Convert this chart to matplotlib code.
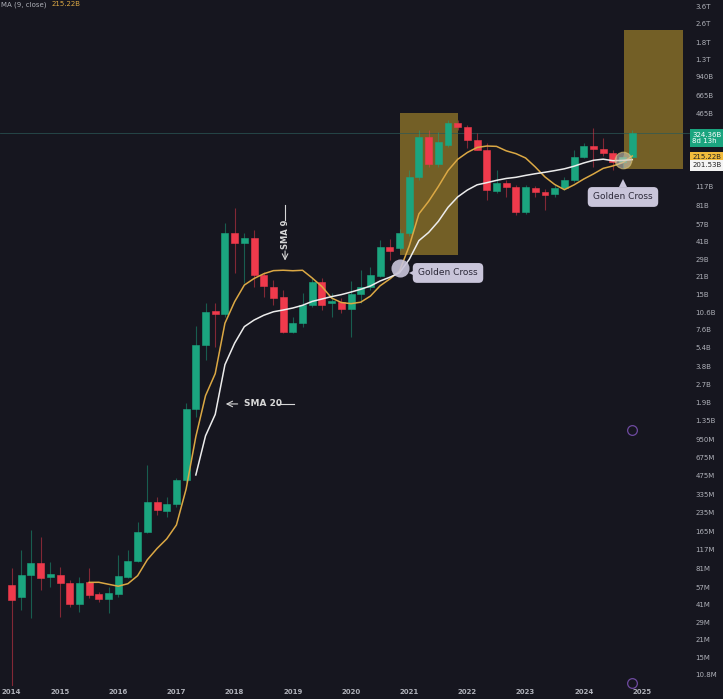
import numpy as np
import pandas as pd
import matplotlib
matplotlib.use("Agg")
import matplotlib.pyplot as plt
from matplotlib.ticker import NullLocator

# two-month candles, values in billions
opens = [0.0593, 0.0472, 0.0718, 0.0902, 0.0691, 0.0718, 0.0617, 0.0413, 0.0628, 0.0500,
         0.0455, 0.0500, 0.0691, 0.0937, 0.163, 0.288, 0.243, 0.277, 0.438, 1.69,
         5.71, 10.9, 10.3, 48.1, 39.8, 43.8, 21.6, 17.2, 14.2, 7.31,
         8.68, 12.2, 18.9, 12.7, 12.9, 11.3, 15.1, 17.2, 21.2, 36.9,
         36.1, 48.1, 140, 299, 179, 257, 390, 362, 282, 234,
         107, 125, 116, 71.8, 114, 105, 101, 114, 132, 204,
         252, 239, 221, 186, 204]
highs = [0.0820, 0.1155, 0.169, 0.148, 0.0919, 0.0836, 0.0653, 0.0691, 0.0820, 0.0519,
         0.0571, 0.105, 0.1155, 0.197, 0.582, 0.317, 0.317, 0.455, 1.89, 8.20,
         12.7, 12.7, 58.2, 77.4, 48.1, 50.9, 22.9, 19.7, 16.3, 9.73,
         15.4, 20.4, 20.4, 15.4, 14.0, 19.3, 23.8, 25.2, 42.1, 43.0,
         51.9, 160, 342, 342, 329, 413, 413, 376, 323, 267,
         160, 132, 120, 120, 118, 111, 120, 140, 234, 267,
         355, 293, 234, 212, 342]
lows = [0.00852, 0.0369, 0.0317, 0.0540, 0.0571, 0.0323, 0.0390, 0.0355, 0.0463, 0.0429,
        0.0348, 0.0472, 0.0678, 0.0919, 0.160, 0.225, 0.216, 0.262, 0.42, 1.45,
        4.29, 5.5, 9.73, 22.5, 18.6, 17.2, 14.2, 12.2, 7.15, 7.15,
        8.05, 11.8, 11.1, 9.73, 10.5, 6.65, 12.7, 16.3, 20.8, 28.8,
        34.9, 45.8, 132, 169, 169, 247, 342, 243, 234, 90.2,
        103, 95.6, 67.8, 69.1, 95.6, 74.6, 95.6, 110, 127, 200,
        169, 208, 160, 166, 200]
closes = [0.0446, 0.0718, 0.0902, 0.0678, 0.0731, 0.0617, 0.0413, 0.0617, 0.0491, 0.0455,
          0.0510, 0.0704, 0.0937, 0.163, 0.288, 0.247, 0.277, 0.438, 1.69, 5.71,
          10.7, 10.3, 48.1, 39.8, 43.8, 21.6, 17.6, 14.0, 7.31, 8.68,
          12.2, 18.9, 12.2, 13.2, 11.3, 15.1, 17.2, 21.6, 36.9, 34.2,
          48.1, 140, 299, 179, 272, 390, 362, 282, 234, 109,
          125, 116, 71.8, 116, 105, 99.2, 114, 132, 204, 252,
          239, 221, 186, 204, 324.36]

year_labels = ['2014', '2015', '2016', '2017', '2018', '2019', '2020', '2021',
               '2022', '2023', '2024', '2025']
year_pos = [0, 5, 11, 17, 23, 29, 35, 41, 47, 53, 59, 65]

ytick_labels = ['3.6T', '2.6T', '1.8T', '1.3T', '940B', '665B', '465B', '117B', '81B',
                '57B', '41B', '29B', '21B', '15B', '10.6B', '7.6B', '5.4B', '3.8B',
                '2.7B', '1.9B', '1.35B', '950M', '675M', '475M', '335M', '235M',
                '165M', '117M', '81M', '57M', '41M', '29M', '21M', '15M', '10.8M']
ytick_vals = [3600, 2600, 1800, 1300, 940, 665, 465, 117, 81, 57, 41, 29, 21, 15, 10.6,
              7.6, 5.4, 3.8, 2.7, 1.9, 1.35, 0.95, 0.675, 0.475, 0.335, 0.235, 0.165,
              0.117, 0.081, 0.057, 0.041, 0.029, 0.021, 0.015, 0.0108]

last_price = 324.36
sma9_last = 215.22
sma20_last = 201.53

BG = '#16161f'
UP = '#1ba57f'
DOWN = '#ef3a4c'
GOLD = '#735f26'
SMA9_C = '#dba844'
SMA20_C = '#ececec'
TXT = '#aeb0b8'
LAV = '#c9c5da'

fig = plt.figure(figsize=(7.23, 6.99), dpi=100, facecolor=BG)
ax = fig.add_axes([0, 13 / 699, 690 / 723, 686 / 699])
ax.set_facecolor(BG)
ax.set_yscale('log')
ax.set_xlim(-1.19, 69.95)
ax.set_ylim(0.00868, 4055)
for s in ax.spines.values():
    s.set_visible(False)

x = np.arange(len(closes))
o = np.array(opens)
h = np.array(highs)
l = np.array(lows)
c = np.array(closes)
colors = np.where(c >= o, UP, DOWN)

# highlighted zones
ax.fill_between([40.0, 46.0], 31.7, 472, color=GOLD, lw=0, zorder=1)
ax.fill_between([63.1, 69.2], 163, 2291, color=GOLD, lw=0, zorder=1)

ax.axhline(last_price, color='#2b5a58', lw=0.6, alpha=0.8, zorder=2)

ax.vlines(x, l, h, colors=colors, lw=0.8, alpha=0.5, zorder=3)
ax.bar(x, np.abs(c - o), bottom=np.minimum(o, c), width=0.72, color=colors,
       edgecolor=colors, linewidth=0.4, zorder=4)

sc = pd.Series(c)
ax.plot(x, sc.rolling(9).mean(), color=SMA9_C, lw=1.1, zorder=5)
ax.plot(x, sc.rolling(20).mean(), color=SMA20_C, lw=1.1, zorder=5)

# SMA 9 note
ann = '#d6d6d6'
ax.plot([28.2, 28.2], [82, 61.6], color=ann, lw=0.8)
ax.text(28.2, 47.2, 'SMA 9', rotation=90, color=ann, fontsize=6, fontweight='bold',
        ha='center', va='center')
ax.annotate('', xy=(28.2, 27.0), xytext=(28.2, 36.1),
            arrowprops=dict(arrowstyle='->', color=ann, lw=0.8))

# SMA 20 note
ax.annotate('', xy=(21.8, 1.86), xytext=(23.6, 1.86),
            arrowprops=dict(arrowstyle='->', color=ann, lw=0.8))
ax.text(24.0, 1.86, 'SMA 20', ha='left', va='center', color=ann, fontsize=6.5,
        fontweight='bold')
ax.plot([27.5, 29.1], [1.86, 1.86], color=ann, lw=0.8)

# golden crosses
ax.plot(40.05, 24.7, 'o', ms=13, color=LAV, alpha=0.9, mew=0, zorder=6)
ax.plot(41.4, 22.6, '<', ms=6, color=LAV, mew=0, zorder=6)
ax.text(45.0, 22.5, 'Golden Cross', ha='center', va='center', fontsize=6.5,
        color='#2b2838', zorder=7,
        bbox=dict(boxstyle='round,pad=0.6,rounding_size=0.5', fc=LAV, ec='none'))

ax.plot(63.04, 193, 'o', ms=12, color='#cfc7b4', alpha=0.6, mec='#e0c870', mew=0.8, zorder=6)
ax.plot(63.04, 124, '^', ms=6, color=LAV, mew=0, zorder=6)
ax.text(63.04, 95.5, 'Golden Cross', ha='center', va='center', fontsize=6.5,
        color='#2b2838', zorder=7,
        bbox=dict(boxstyle='round,pad=0.6,rounding_size=0.5', fc=LAV, ec='none'))

# small icons
ax.plot(64.0, 1.13, 'o', ms=7, mfc='none', mec='#6e4aa0', mew=0.9, zorder=6)
ax.plot(64.0, 0.0092, 'o', ms=7, mfc='none', mec='#6e4aa0', mew=0.9, zorder=6,
        clip_on=False)

# axes
ax.yaxis.tick_right()
ax.set_yticks(ytick_vals)
ax.set_yticklabels(ytick_labels)
ax.yaxis.set_minor_locator(NullLocator())
ax.tick_params(axis='y', length=0, pad=4, labelsize=5, labelcolor=TXT)
ax.set_xticks(year_pos)
ax.set_xticklabels(year_labels, fontweight='bold')
ax.tick_params(axis='x', length=0, pad=2, labelsize=5, labelcolor=TXT)

# price badges
tr = ax.get_yaxis_transform()
ax.text(1.003, 294, f'{last_price:.2f}B\n8d 13h', transform=tr, ha='left', va='center',
        fontsize=5, color='white', linespacing=1.1, zorder=8,
        bbox=dict(boxstyle='square,pad=0.35', fc=UP, ec='none'))
ax.text(1.003, 206, f'{sma9_last:.2f}B', transform=tr, ha='left', va='center',
        fontsize=5, color='#222222', zorder=8,
        bbox=dict(boxstyle='square,pad=0.3', fc='#f2bc3c', ec='none'))
ax.text(1.003, 174, f'{sma20_last:.2f}B', transform=tr, ha='left', va='center',
        fontsize=5, color='#222222', zorder=8,
        bbox=dict(boxstyle='square,pad=0.3', fc='#f4f4f4', ec='none'))

# legend line at the top
ax.text(0.002, 0.998, 'MA (9, close)', transform=ax.transAxes, fontsize=5,
        color=TXT, va='top', ha='left')
ax.text(0.074, 0.998, f'{sma9_last:.2f}B', transform=ax.transAxes, fontsize=5,
        color=SMA9_C, va='top', ha='left')

fig.savefig('out.png', dpi=100, facecolor=BG)
